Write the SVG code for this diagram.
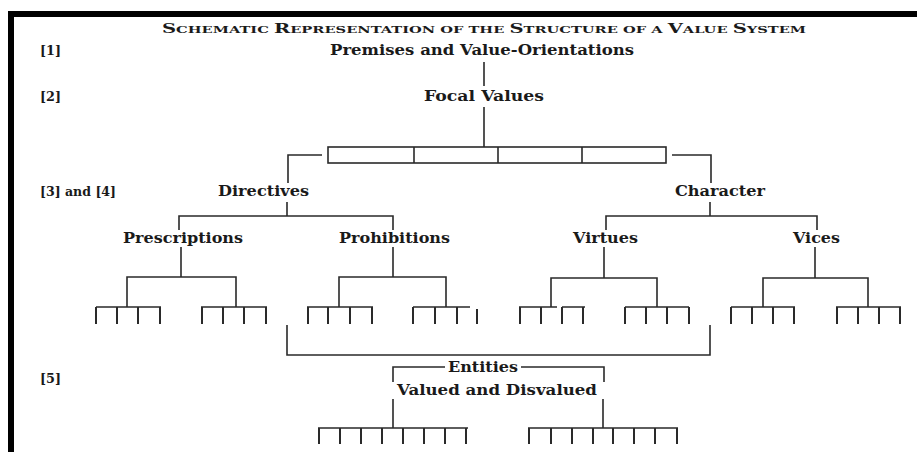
<svg xmlns="http://www.w3.org/2000/svg" width="917" height="452" viewBox="0 0 917 452">
<style>
.t{font-family:"DejaVu Serif","Liberation Serif",serif;font-weight:bold;fill:#1a1a1a;font-size:14px}
.lb{font-family:"DejaVu Serif","Liberation Serif",serif;font-weight:bold;fill:#1a1a1a;font-size:13px}
.ttl{font-family:"DejaVu Serif","Liberation Serif",serif;font-weight:bold;fill:#1a1a1a}
.c{fill:none;stroke:#2a2a2a;stroke-width:1.6}
.tk{fill:none;stroke:#2a2a2a;stroke-width:2}
</style>
<rect width="917" height="452" fill="#fff"/>
<rect x="8" y="11" width="909" height="6" fill="#000"/>
<rect x="8" y="11" width="6" height="441" fill="#000"/>
<text class="ttl" x="162" y="33" textLength="644" lengthAdjust="spacingAndGlyphs"><tspan font-size="12">S</tspan><tspan font-size="9">CHEMATIC </tspan><tspan font-size="12">R</tspan><tspan font-size="9">EPRESENTATION OF THE </tspan><tspan font-size="12">S</tspan><tspan font-size="9">TRUCTURE OF A </tspan><tspan font-size="12">V</tspan><tspan font-size="9">ALUE </tspan><tspan font-size="12">S</tspan><tspan font-size="9">YSTEM</tspan></text>
<g id="levels">
<text class="lb" x="40" y="55" textLength="21" lengthAdjust="spacingAndGlyphs">[1]</text>
<text class="lb" x="40" y="101" textLength="21" lengthAdjust="spacingAndGlyphs">[2]</text>
<text class="lb" x="40" y="196" textLength="76" lengthAdjust="spacingAndGlyphs">[3] and [4]</text>
<text class="lb" x="40" y="383" textLength="21" lengthAdjust="spacingAndGlyphs">[5]</text>
</g>
<g id="premises"><text class="t" x="330" y="55" textLength="304" lengthAdjust="spacingAndGlyphs">Premises and Value-Orientations</text></g>
<g id="focal"><text class="t" x="424" y="101" textLength="120" lengthAdjust="spacingAndGlyphs">Focal Values</text></g>
<g id="box"><rect class="c" x="328" y="147" width="338" height="16"/><path class="c" d="M414 147V163M498 147V163M582 147V163"/></g>
<g id="directives"><text class="t" x="218" y="196" textLength="91" lengthAdjust="spacingAndGlyphs">Directives</text></g>
<g id="character"><text class="t" x="675" y="196" textLength="90" lengthAdjust="spacingAndGlyphs">Character</text></g>
<g id="prescriptions"><text class="t" x="123" y="243" textLength="120" lengthAdjust="spacingAndGlyphs">Prescriptions</text></g>
<g id="prohibitions"><text class="t" x="339" y="243" textLength="111" lengthAdjust="spacingAndGlyphs">Prohibitions</text></g>
<g id="virtues"><text class="t" x="573" y="243" textLength="65" lengthAdjust="spacingAndGlyphs">Virtues</text></g>
<g id="vices"><text class="t" x="793" y="243" textLength="47" lengthAdjust="spacingAndGlyphs">Vices</text></g>
<g id="entities"><text class="t" x="448" y="372" textLength="70" lengthAdjust="spacingAndGlyphs">Entities</text></g>
<g id="valued"><text class="t" x="397" y="395" textLength="200" lengthAdjust="spacingAndGlyphs">Valued and Disvalued</text></g>
<g id="connectors">
<path class="c" d="M484 62V86M484 107V147"/>
<path class="c" d="M322 155H288V183M672 155H711V183"/>
<path class="c" d="M287 202V216M179 230V216H393V230M710 202V216M606 230V216H817V230"/>
<path class="c" d="M181 247V277M127 307V277H236V307M393 247V277M339 307V277H446V307M604 247V278M551 307V278H657V307M815 247V278M763 307V278H868V307"/>
<path class="c" d="M96 307H161M201 307H267M307 307H373M413 307H470M519 307H557M562 307H585M625 307H689M731 307H795M836 307H901"/>
<path class="tk" d="M96 307V324M117 307V324M138 307V324M160 307V324M202 307V324M223 307V324M244 307V324M266 307V324M308 307V324M328 307V324M350 307V324M372 307V324M413 307V324M435 307V324M457 307V324M477 309V324M520 307V324M541 307V324M562 307V324M583 307V324M625 307V324M646 307V324M667 307V324M689 307V324M731 307V324M752 307V324M773 307V324M794 307V324M837 307V324M858 307V324M879 307V324M900 307V324"/>
<path class="c" d="M287 325V355H710V325"/>
<path class="c" d="M393 382V367H445M521 367H604V382"/>
<path class="c" d="M393 399V428M603 399V428M318 428H468M528 428H678"/>
<path class="tk" d="M319 428V444M340 428V444M361 428V444M382 428V444M403 428V444M424 428V444M445 428V444M466 428V444M529 428V444M551 428V444M572 428V444M593 428V444M613 428V444M634 428V444M655 428V444M677 428V444"/>
</g>
</svg>
